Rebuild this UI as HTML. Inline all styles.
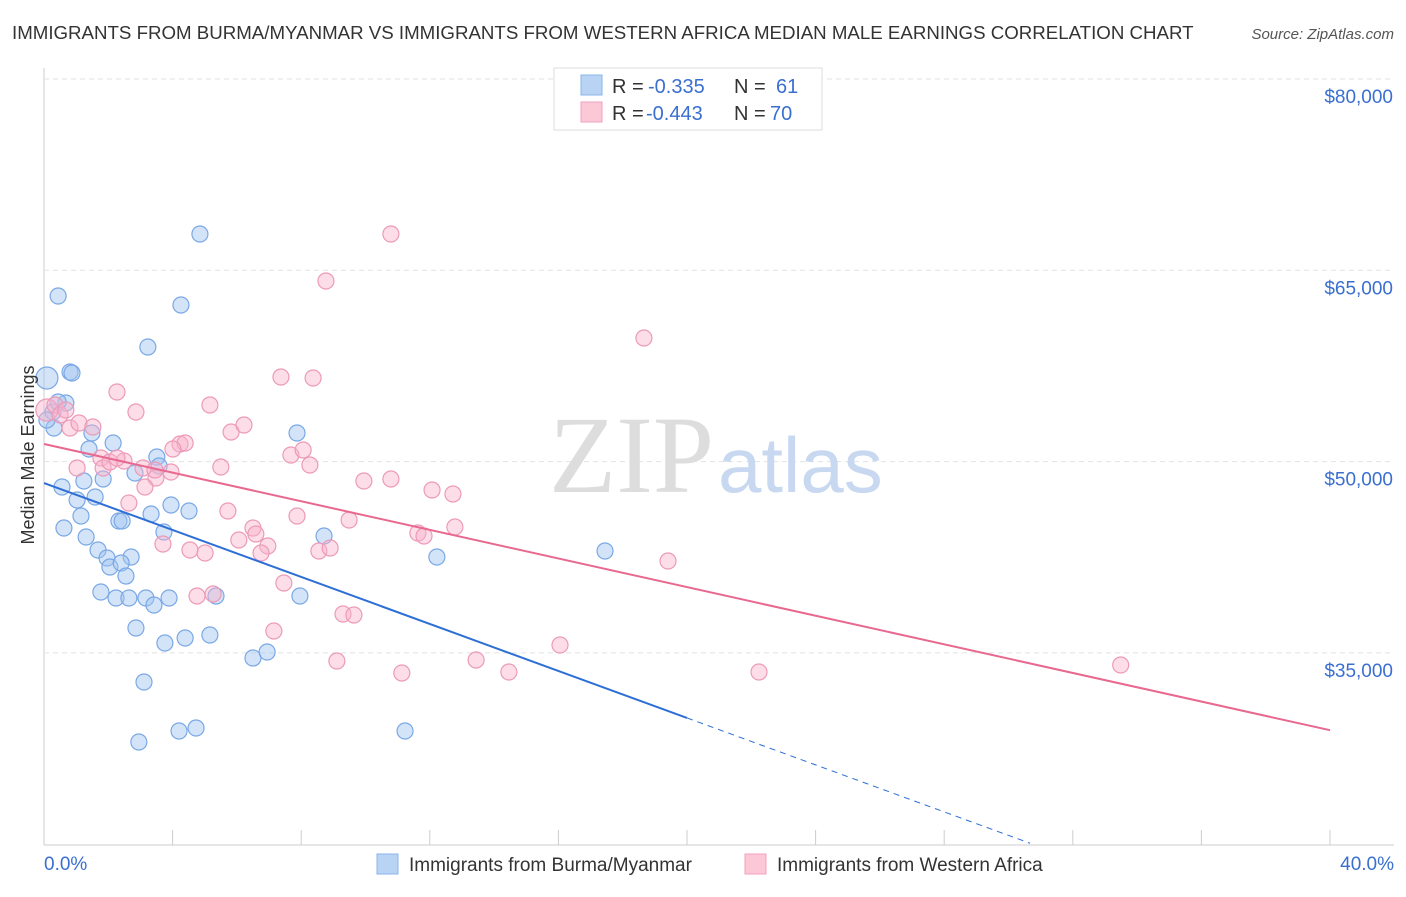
<!DOCTYPE html>
<html><head><meta charset="utf-8"><style>
body{margin:0;background:#fff;font-family:"Liberation Sans",sans-serif;}
</style></head><body>
<svg id="c" width="1406" height="892" xmlns="http://www.w3.org/2000/svg" font-family="Liberation Sans, sans-serif">
<text x="12" y="39" font-size="18.7" fill="#333">IMMIGRANTS FROM BURMA/MYANMAR VS IMMIGRANTS FROM WESTERN AFRICA MEDIAN MALE EARNINGS CORRELATION CHART</text>
<text x="1394" y="39" font-size="15" fill="#555" font-style="italic" text-anchor="end">Source: ZipAtlas.com</text>
<g id="grid"></g>
<text x="714" y="492" font-size="110" fill="#ddd" text-anchor="end" font-family="Liberation Serif, serif">ZIP</text>
<text x="718" y="492" font-size="78" fill="#c8d8f0">atlas</text>
<g id="pts"></g>
<g id="lines"></g>
<text transform="translate(34,455) rotate(-90)" font-size="18" fill="#333" text-anchor="middle">Median Male Earnings</text>
<g>
<rect x="554" y="68" width="268" height="62" fill="#fff" stroke="#ddd"/>
<rect x="581" y="75" width="21" height="20" fill="#b9d3f5" stroke="#8ab4ea"/>
<rect x="581" y="102" width="21" height="20" fill="#fcc8d8" stroke="#f0a0bc"/>
<text x="612" y="93" font-size="20" fill="#333">R =</text>
<text x="648" y="93" font-size="20" fill="#3a6fd0">-0.335</text>
<text x="734" y="93" font-size="20" fill="#333">N =</text>
<text x="776" y="93" font-size="20" fill="#3a6fd0">61</text>
<text x="612" y="120" font-size="20" fill="#333">R =</text>
<text x="646" y="120" font-size="20" fill="#3a6fd0">-0.443</text>
<text x="734" y="120" font-size="20" fill="#333">N =</text>
<text x="770" y="120" font-size="20" fill="#3a6fd0">70</text>
</g>
<g>
<rect x="377" y="854" width="21" height="20" fill="#b9d3f5" stroke="#8ab4ea"/>
<text x="409" y="871" font-size="19" fill="#333">Immigrants from Burma/Myanmar</text>
<rect x="745" y="854" width="21" height="20" fill="#fcc8d8" stroke="#f0a0bc"/>
<text x="777" y="871" font-size="19" fill="#333">Immigrants from Western Africa</text>
</g>
<text x="44" y="870" font-size="19" fill="#3a6fd0">0.0%</text>
<text x="1394" y="870" font-size="19" fill="#3a6fd0" text-anchor="end">40.0%</text>
</svg>
<script>
const yTicks=[35000,50000,65000,80000];
const yTickLabels=["$35,000","$50,000","$65,000","$80,000"];
const blueX=[.44,.09,.81,.87,.68,.28,.31,1.49,2.15,1.40,3.51,3.58,2.83,.56,1.24,1.84,1.59,1.03,1.15,.62,2.33,2.43,3.33,3.73,3.95,4.51,1.31,1.68,1.96,2.71,2.05,2.40,2.55,1.77,2.24,2.64,3.17,3.42,3.89,5.35,2.86,3.76,4.39,5.16,6.50,6.94,3.11,2.95,4.20,4.73,11.23,4.85,4.26,3.23,7.87,8.71,7.96,12.22,17.45,.09,.44];
const blueY=[62985,56555,57026,56948,54595,53889,52635,52243,51459,50988,50361,49655,49106,48009,48479,48636,47225,46989,45735,44794,45343,45343,45892,44480,46597,46127,44088,43069,42442,42520,41736,42050,41030,39776,39305,39305,39305,38756,39305,39462,36953,35777,36169,36404,34601,35071,32719,28014,28877,29112,28877,67846,62279,58986,52243,44167,39462,42520,42990,53262,54674];
const pinkX=[.09,.34,.50,.81,1.09,1.52,.68,2.27,2.86,1.03,1.77,1.84,2.49,3.08,2.05,3.95,3.48,2.64,3.14,3.45,4.23,4.39,4.01,5.16,5.82,6.22,5.50,5.72,6.50,6.59,6.06,6.96,6.75,4.54,5.01,3.70,4.76,5.26,7.46,7.15,7.37,8.37,8.77,10.79,7.87,7.68,8.06,8.27,8.55,8.90,9.49,9.95,10.79,12.07,12.72,11.63,11.82,12.78,9.30,9.64,9.11,11.13,13.44,14.46,16.05,18.66,19.41,22.24,33.49,2.27];
const pinkY=[54046,54438,53654,52635,53027,52713,54046,55458,53889,49498,50282,49498,50047,49498,49969,49185,48714,46754,48009,49342,51380,51459,50988,54438,52321,52870,49577,46127,44794,44323,43853,43383,42834,43069,42834,43539,39462,39619,40481,36718,56634,56555,64161,67846,45735,50518,50910,49734,42990,43226,45421,48479,48636,47773,47460,44402,44167,44872,38051,37973,34365,33424,34444,33503,35620,59692,42206,33503,34052,50282];
const blueTrend=[48322,-921];
const pinkTrend=[51380,-561];
const NS="http://www.w3.org/2000/svg";
const sx=v=>44+v*32.15;
const sy=v=>79+(80000-v)/78.41;
function mk(t,a,p){const e=document.createElementNS(NS,t);for(const k in a)e.setAttribute(k,a[k]);p.appendChild(e);return e;}
const grid=document.getElementById('grid');
const ax=mk('line',{x1:44,y1:68,x2:44,y2:845,stroke:'#ccc'},grid);


const bx=mk('line',{x1:44,y1:845,x2:1394,y2:845,stroke:'#ccc'},grid);


yTicks.forEach((t,i)=>{
 const g=mk('line',{x1:44,x2:1394,y1:sy(t),y2:sy(t),stroke:'#e2e2e2','stroke-dasharray':'5,4'},grid);
 
 
 const l=mk('text',{x:1393,y:sy(t)+24,'text-anchor':'end','font-size':19,fill:'#3a6fd0'},grid);
 l.textContent=yTickLabels[i];
 
 
});
for(let i=1;i<=10;i++){
 const tk=mk('line',{x1:sx(i*4),x2:sx(i*4),y1:830,y2:845,stroke:'#ccc'},grid);
 
 
}
const pts=document.getElementById('pts');
function dots(X,Y,fill,stroke,name){
 X.forEach((x,i)=>{
  const r=(i===1&&name==='blue-point')||(i===0&&name==='pink-point')?11:8;
  const c=mk('circle',{cx:sx(x),cy:sy(Y[i]),r:r,fill:fill,stroke:stroke,'stroke-width':1.2},pts);
  
  
 });
}
dots(blueX,blueY,'rgba(160,196,240,0.45)','#7aa8e6','blue-point');
dots(pinkX,pinkY,'rgba(248,180,204,0.45)','#ec9ab8','pink-point');
const ln=document.getElementById('lines');
const f=(t,x)=>t[0]+t[1]*x;
const b1=mk('line',{x1:sx(0),y1:sy(f(blueTrend,0)),x2:sx(20),y2:sy(f(blueTrend,20)),stroke:'#2e6fd6','stroke-width':2},ln);


const b2=mk('line',{x1:sx(20),y1:sy(f(blueTrend,20)),x2:sx(30.67),y2:sy(f(blueTrend,30.67)),stroke:'#2e6fd6','stroke-width':1,'stroke-dasharray':'6,5'},ln);


const p1=mk('line',{x1:sx(0),y1:sy(f(pinkTrend,0)),x2:sx(40),y2:sy(f(pinkTrend,40)),stroke:'#e8688f','stroke-width':2},ln);


</script>
</body></html>
